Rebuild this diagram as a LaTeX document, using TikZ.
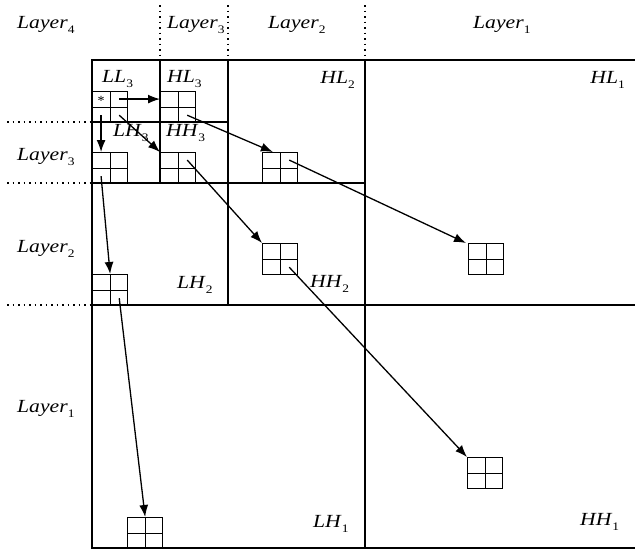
\documentclass[tikz,border=0pt]{standalone}
\usepackage{fontspec}
\setmainfont{Liberation Serif}
\usetikzlibrary{arrows.meta,calc}
\newcommand\lbl[2]{\scalebox{1.17}[1]{\fontsize{18.5}{20}\selectfont\textit{#1}\raisebox{-5pt}{\fontsize{11.5}{11.5}\selectfont #2}}}
\begin{document}
\begin{tikzpicture}[x=1pt,y=-1pt,
  frame/.style={line width=1.5pt},
  dotline/.style={line width=1.5pt, dash pattern=on 1.5pt off 4pt},
  qbox/.style={draw, line width=1.3pt, minimum width=35pt, minimum height=31pt, inner sep=0pt, anchor=north west,
    path picture={\draw[line width=1.3pt] (path picture bounding box.north) -- (path picture bounding box.south)
      (path picture bounding box.west) -- (path picture bounding box.east);}},
  lab/.style={inner sep=0pt, anchor=base west},
  labr/.style={inner sep=0pt, anchor=base east},
  arr/.style={line width=1.3pt, -{Latex[length=12pt,width=9pt]}}]
\useasboundingbox (0,0) rectangle (635,550);
% frame
\draw[frame] (635,60) -- (92,60) -- (92,548) -- (635,548);
\draw[frame] (160,60) -- (160,183);
\draw[frame] (228,60) -- (228,305);
\draw[frame] (365,60) -- (365,548);
\draw[frame] (92,122) -- (228,122);
\draw[frame] (92,183) -- (365,183);
\draw[frame] (92,305) -- (635,305);
% dotted guides
\draw[dotline] (160,5) -- (160,60);
\draw[dotline] (228,5) -- (228,60);
\draw[dotline] (365,5) -- (365,60);
\draw[dotline] (7,122) -- (92,122);
\draw[dotline] (7,183) -- (92,183);
\draw[dotline] (7,305) -- (92,305);
% layer labels
\node[lab] (t4) at (17,28) {\lbl{Layer}{4}};
\node[lab] (t3) at (167,28) {\lbl{Layer}{3}};
\node[lab] (t2) at (268,28) {\lbl{Layer}{2}};
\node[lab] (t1) at (473,28) {\lbl{Layer}{1}};
\node[lab] (l3) at (17,160) {\lbl{Layer}{3}};
\node[lab] (l2) at (17,252) {\lbl{Layer}{2}};
\node[lab] (l1) at (17,412) {\lbl{Layer}{1}};
% subband labels
\node[lab] (nLL3) at (102,82) {\lbl{LL}{3}};
\node[lab] (nHL3) at (167,82) {\lbl{HL}{3}};
\node[lab] (nLH3) at (113,136) {\lbl{LH}{3}};
\node[lab] (nHH3) at (166,136) {\lbl{HH}{3}};
\node[labr] (nHL2) at (355,83) {\lbl{HL}{2}};
\node[labr] (nHL1) at (625,83) {\lbl{HL}{1}};
\node[lab] (nLH2) at (177,288) {\lbl{LH}{2}};
\node[lab] (nHH2) at (310,287) {\lbl{HH}{2}};
\node[lab] (nLH1) at (313,527) {\lbl{LH}{1}};
\node[lab] (nHH1) at (580,525) {\lbl{HH}{1}};
% coefficient blocks
\node[qbox] (bLL3) at (92,91) {};
\node[qbox] (bHL3) at (160,91) {};
\node[qbox] (bLH3) at (92,152) {};
\node[qbox] (bHH3) at (160,152) {};
\node[qbox] (bHL2) at (262,152) {};
\node[qbox] (bHH2) at (262,243) {};
\node[qbox] (bHL1) at (468,243) {};
\node[qbox] (bLH2) at (92,274) {};
\node[qbox] (bHH1) at (467,457) {};
\node[qbox] (bLH1) at (127,517) {};
\node[inner sep=0pt, font=\fontsize{14}{14}\selectfont] (star) at ($(bLL3.center)!.5!(bLL3.north west)+(0,1.5)$) {*};
% arrows
\draw[arr] ($(bLL3.center)!.5!(bLL3.north east)$) -- ($(bHL3.north west)!.5!(bHL3.west)$);
\draw[arr] ($(bLL3.center)!.5!(bLL3.south west)$) -- ($(bLH3.north west)!.5!(bLH3.north)$);
\draw[arr] ($(bLL3.center)!.5!(bLL3.south east)$) -- (bHH3.north west);
\draw[arr] ($(bHL3.center)!.5!(bHL3.south east)$) -- ($(bHL2.north west)!.6!(bHL2.north)$);
\draw[arr] ($(bHH3.center)!.5!(bHH3.north east)$) -- (bHH2.north west);
\draw[arr] ($(bHL2.center)!.5!(bHL2.north east)$) -- ($(bHL1.north west)+(-2,0)$);
\draw[arr] ($(bLH3.center)!.5!(bLH3.south west)$) -- (bLH2.north);
\draw[arr] ($(bHH2.center)!.5!(bHH2.south east)$) -- (bHH1.north west);
\draw[arr] ($(bLH2.center)!.5!(bLH2.south east)$) -- (bLH1.north);
\end{tikzpicture}
\end{document}
